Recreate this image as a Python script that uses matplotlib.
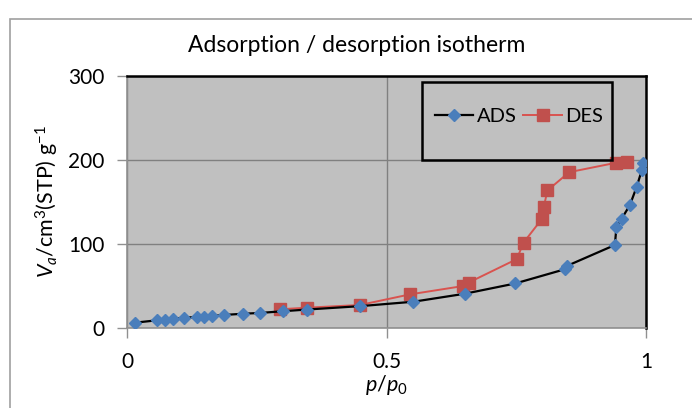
import numpy as np
import matplotlib.pyplot as plt
from matplotlib.patches import Rectangle

plt.rcParams['font.family'] = ['Lato', 'DejaVu Sans']
plt.rcParams['mathtext.fontset'] = 'custom'
plt.rcParams['mathtext.rm'] = 'Lato'
plt.rcParams['mathtext.it'] = 'Lato:italic'

# adsorption branch
ads_p = [0.015, 0.058, 0.073, 0.088, 0.11, 0.135, 0.148, 0.163, 0.186, 0.224, 0.256,
         0.301, 0.347, 0.449, 0.552, 0.651, 0.748, 0.844, 0.848, 0.940, 0.943, 0.953,
         0.969, 0.982, 0.992, 0.994]
ads_v = [6.3, 9.2, 9.9, 11.1, 12.3, 13.1, 13.5, 14.3, 15.5, 17, 17.9,
         20, 22, 26, 31.3, 40.8, 53, 70, 74, 98.8, 120, 130,
         146.4, 168, 188, 196]

# desorption branch
des_p = [0.295, 0.347, 0.449, 0.545, 0.648, 0.658, 0.751, 0.764, 0.799, 0.803, 0.81,
         0.852, 0.943, 0.963]
des_v = [22.3, 24.2, 27.4, 40, 50, 54, 82, 101.6, 129.5, 143.8, 163.7,
         185.5, 196.8, 197.6]

fig = plt.figure(figsize=(6.92, 4.08), dpi=100)
# outer chart frame
fig.patches.append(Rectangle((10 / 692, -0.1), 1.2, 1 - 19 / 408 + 0.1, transform=fig.transFigure,
                             fill=False, edgecolor='#a0a0a0', linewidth=1.2))

ax = fig.add_axes([127 / 692, 1 - 328 / 408, 519 / 692, 252 / 408])
ax.set_facecolor('#c0c0c0')

ax.plot(ads_p, ads_v, color='black', linewidth=1.6, marker='D', markersize=6.5,
        markerfacecolor='#4a7ebb', markeredgecolor='#4a7ebb', label='ADS', zorder=3)
ax.plot(des_p, des_v, color='#d9534f', linewidth=1.4, marker='s', markersize=8.5,
        markerfacecolor='#c0504d', markeredgecolor='#c0504d', label='DES', zorder=2)

ax.set_xlim(0, 1)
ax.set_ylim(0, 300)
ax.set_xticks([0, 0.5, 1])
ax.set_xticklabels(['0', '0.5', '1'])
ax.set_yticks([0, 100, 200, 300])
ax.grid(True, color='#808080', linewidth=1.0)
ax.set_axisbelow(True)

for s in ['left', 'bottom']:
    ax.spines[s].set_color('#909090')
    ax.spines[s].set_linewidth(1.2)
for s in ['top', 'right']:
    ax.spines[s].set_color('black')
    ax.spines[s].set_linewidth(1.8)
ax.tick_params(axis='both', colors='#909090', labelcolor='black', labelsize=15,
               length=7, width=1.0)
ax.tick_params(axis='x', pad=10)
ax.tick_params(axis='y', pad=9)

ax.set_xlabel('$p/p_0$', fontsize=15.5, labelpad=1)
ax.set_ylabel('$V_a$/cm$^3$(STP) g$^{-1}$', fontsize=15.5, labelpad=5)
fig.text(357 / 692, 1 - 45 / 408, 'Adsorption / desorption isotherm', ha='center', va='center',
         fontsize=16.5)

# legend box
ax.add_patch(Rectangle((0.568, 0.667), 0.366, 0.31, transform=ax.transAxes,
                       fill=False, edgecolor='black', linewidth=1.8, zorder=4))
ax.legend(loc='center', bbox_to_anchor=(0.755, 0.84), ncol=2, frameon=False, fontsize=14.5,
          handlelength=1.9, handletextpad=0.15, columnspacing=0.35)

fig.savefig('out.png', dpi=100)
